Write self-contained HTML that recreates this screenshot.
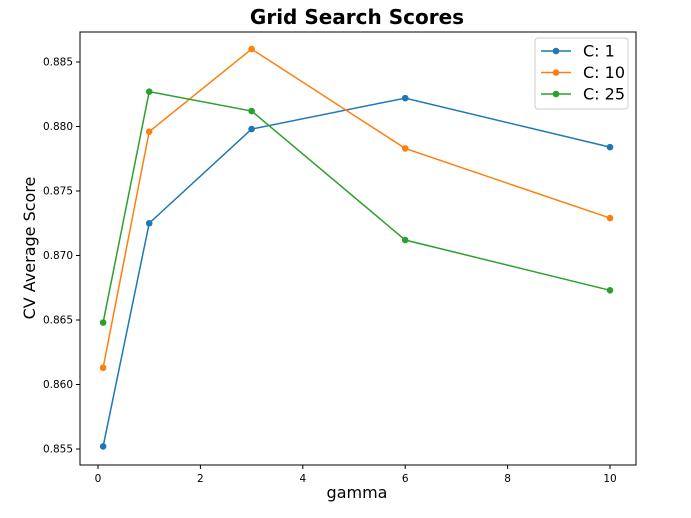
<!DOCTYPE html>
<html><head><meta charset="utf-8"><style>
body{margin:0;background:#fff;font-family:"DejaVu Sans","Liberation Sans",sans-serif}
text{font-family:"DejaVu Sans","Liberation Sans",sans-serif}
</style></head><body>
<svg id="c" width="691" height="514" xmlns="http://www.w3.org/2000/svg"></svg>
<script>
const gammas=[0.1,1,3,6,10];
const seriesNames=["C: 1","C: 10","C: 25"];
const scoresC1=[0.8552,0.8725,0.8798,0.8822,0.8784];
const scoresC10=[0.8613,0.8796,0.8860,0.8783,0.8729];
const scoresC25=[0.8648,0.8827,0.8812,0.8712,0.8673];
const xTicks=[0,2,4,6,8,10];
const yTicks=[0.855,0.860,0.865,0.870,0.875,0.880,0.885];
const colors=["#1f77b4","#ff7f0e","#2ca02c"];
const L=80,R=636,T=32,B=465;
const xs=v=>98+(v-0)*51.2;
const ys=v=>449-(v-0.855)*12900;
const svg=document.getElementById('c');
const NS="http://www.w3.org/2000/svg";
function mk(t,a,txt){const e=document.createElementNS(NS,t);for(const k in a)e.setAttribute(k,a[k]);if(txt!=null)e.textContent=txt;svg.appendChild(e);return e;}
let e;
e=mk('rect',{x:L,y:T,width:R-L,height:B-T,fill:'none',stroke:'#000','stroke-width':1});


xTicks.forEach(t=>{
 e=mk('line',{x1:xs(t),x2:xs(t),y1:B,y2:B+4,stroke:'#000'});
 
 
 e=mk('text',{x:xs(t),y:B+17,'font-size':10.5,'text-anchor':'middle'},String(t));
 
 
});
yTicks.forEach(t=>{
 e=mk('line',{x1:L-4,x2:L,y1:ys(t),y2:ys(t),stroke:'#000'});
 
 
 e=mk('text',{x:L-7,y:ys(t)+3.5,'font-size':10.5,'text-anchor':'end'},t.toFixed(3));
 
 
});
e=mk('text',{x:357,y:24,'font-size':20,'font-weight':'bold','text-anchor':'middle'},'Grid Search Scores');


e=mk('text',{x:357,y:498,'font-size':16,'text-anchor':'middle'},'gamma');


e=mk('text',{x:35,y:248,'font-size':16,'text-anchor':'middle',transform:'rotate(-90 35 248)'},'CV Average Score');


[scoresC1,scoresC10,scoresC25].forEach((s,i)=>{
 e=mk('polyline',{points:s.map((v,j)=>xs(gammas[j])+','+ys(v)).join(' '),fill:'none',stroke:colors[i],'stroke-width':1.5});
 
 
 s.forEach((v,j)=>{
  e=mk('circle',{cx:xs(gammas[j]),cy:ys(v),r:3.3,fill:colors[i]});
  
  
 });
});
e=mk('rect',{x:535,y:38,width:93,height:71,fill:'#fff',stroke:'#ccc',rx:3});


seriesNames.forEach((n,i)=>{
 const y=51+i*21.5;
 e=mk('line',{x1:541,x2:571,y1:y,y2:y,stroke:colors[i],'stroke-width':1.5});
 
 
 e=mk('circle',{cx:556,cy:y,r:3.3,fill:colors[i]});
 
 
 e=mk('text',{x:583,y:y+5.5,'font-size':16},n);
 
 
});
</script>
</body></html>
